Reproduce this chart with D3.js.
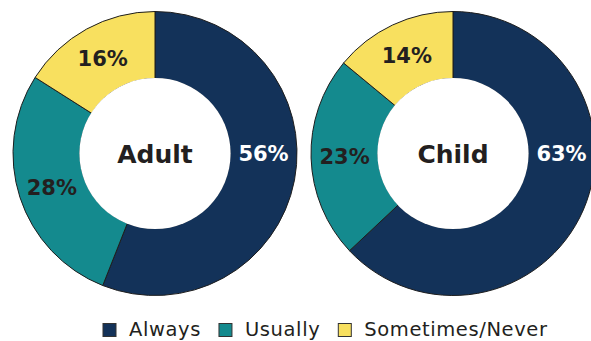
<!DOCTYPE html>
<html><head><meta charset="utf-8">
<script src="https://cdn.jsdelivr.net/npm/d3@7"></script>
<style>html,body{margin:0;padding:0;background:#fff;}svg{display:block;}</style>
</head><body>
<script>
const categories = ["Always", "Usually", "Sometimes/Never"];
const groups = ["Adult", "Child"];
const adultValues = [56, 28, 16];
const childValues = [63, 23, 14];
const colors = ["#133259", "#148a8e", "#f8e05f"];

const W = 591, H = 341;
const svg = d3.select("body").append("svg").attr("width", W).attr("height", H);
const font = "'DejaVu Sans', sans-serif";
const outerR = 142, innerR = 75;
const centers = [[155, 153.5], [453, 153.5]];
const color = d3.scaleOrdinal().domain(categories).range(colors);
const pie = d3.pie().sort(null).value(d => d.value);
const arc = d3.arc().innerRadius(innerR).outerRadius(outerR);
const labelR = (innerR + outerR) / 2;

[adultValues, childValues].forEach((vals, gi) => {
  const data = categories.map((c, i) => ({cat: c, value: vals[i]}));
  const g = svg.append("g").attr("transform", `translate(${centers[gi][0]},${centers[gi][1]})`);
  const arcs = pie(data);
  g.selectAll("path").data(arcs).join("path")
    .attr("d", arc).attr("fill", d => color(d.data.cat))
    .attr("stroke", "#1e1e1e").attr("stroke-width", 1);
  g.append("circle").attr("r", innerR + 0.6).attr("fill", "#fff");
  g.selectAll("text.lbl").data(arcs).join("text").attr("class", "lbl")
    .attr("transform", d => {
      let a = (d.startAngle + d.endAngle) / 2;
      if (d.startAngle <= Math.PI / 2 && d.endAngle >= Math.PI / 2) a = Math.PI / 2;
      return `translate(${labelR * Math.sin(a)},${-labelR * Math.cos(a)})`;
    })
    .attr("text-anchor", "middle").attr("dy", "0.36em")
    .attr("font-family", font).attr("font-weight", "bold").attr("font-size", 21)
    .attr("fill", d => d.index === 0 ? "#fff" : "#231f20")
    .text(d => d.data.value + "%");
  g.append("text").attr("text-anchor", "middle").attr("dy", "0.36em")
    .attr("font-family", font).attr("font-weight", "bold").attr("font-size", 25)
    .attr("fill", "#231f20").text(groups[gi]);
});

// legend
const legend = svg.append("g").attr("transform", "translate(103,329)");
let x = 0;
categories.forEach((c, i) => {
  const item = legend.append("g").attr("transform", `translate(${x},0)`);
  item.append("rect").attr("x", 0).attr("y", -5.5).attr("width", 13).attr("height", 13)
    .attr("fill", color(c)).attr("stroke", "#333").attr("stroke-width", 1);
  const t = item.append("text").attr("x", 26).attr("dy", "0.36em")
    .attr("font-family", font).attr("font-size", 19.5).attr("letter-spacing", 0.6)
    .attr("fill", "#231f20").text(c);
  x += 26 + t.node().getComputedTextLength() + 18;
});
</script>
</body></html>
